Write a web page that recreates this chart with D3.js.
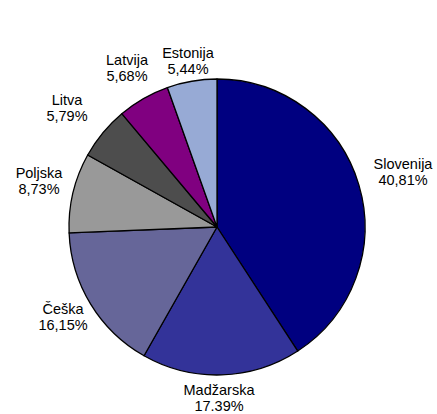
<!DOCTYPE html>
<html><head><meta charset="utf-8">
<script src="https://cdn.jsdelivr.net/npm/d3@7"></script>
<style>body{margin:0;background:#fff}svg{display:block}text{font-family:"Liberation Sans",Arial,sans-serif;font-size:14.5px;fill:#000}</style>
</head><body>
<svg id="c" width="437" height="414"></svg>
<script>
const categories = ["Slovenija","Madžarska","Češka","Poljska","Litva","Latvija","Estonija"];
const values = [40.81,17.39,16.15,8.73,5.79,5.68,5.44];
const valueLabels = ["40,81%","17.39%","16,15%","8,73%","5,79%","5,68%","5,44%"];
const colors = ["#000080","#333399","#666699","#999999","#4d4d4d","#800080","#97aad5"];
// label anchor positions (centre x, first-line baseline y)
const labelPos = [[403,169],[219,395],[63,314],[39,178],[67,105],[127,65],[188,58]];

const svg = d3.select("#c");
const cx = 217, cy = 227, r = 148;
const g = svg.append("g").attr("transform",`translate(${cx},${cy})`);
const pie = d3.pie().sort(null).value(d=>d);
const arc = d3.arc().innerRadius(0).outerRadius(r);
g.selectAll("path").data(pie(values)).join("path")
  .attr("d",arc).attr("fill",(d,i)=>colors[i])
  .attr("stroke","#000").attr("stroke-width",1.3).attr("stroke-linejoin","round");

const lab = svg.selectAll("text.l").data(categories).join("text").attr("class","l")
  .attr("text-anchor","middle")
  .attr("x",(d,i)=>labelPos[i][0]).attr("y",(d,i)=>labelPos[i][1]);
lab.append("tspan").attr("x",(d,i)=>labelPos[i][0]).text(d=>d);
lab.append("tspan").attr("x",(d,i)=>labelPos[i][0]).attr("dy",15.8).text((d,i)=>valueLabels[i]);
</script>
</body></html>
